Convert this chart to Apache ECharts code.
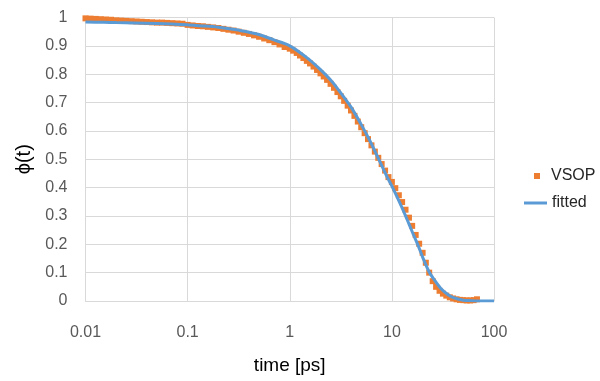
<!DOCTYPE html>
<html>
<head>
<meta charset="utf-8">
<script src="https://cdn.jsdelivr.net/npm/echarts@6/dist/echarts.min.js"></script>
<style>
  html, body { margin: 0; padding: 0; background: #fff; }
  #chart { width: 600px; height: 381px; }
</style>
</head>
<body>
<div id="chart"></div>
<script>
// VSOP points, time [ps] and phi(t)
var vsopTime = [
  0.01, 0.0112, 0.0126, 0.0141, 0.0158, 0.0178, 0.02, 0.0224, 0.0251, 0.0282,
  0.0316, 0.0355, 0.0398, 0.0447, 0.0501, 0.0562, 0.0631, 0.0708, 0.0794, 0.0891,
  0.1, 0.112, 0.126, 0.141, 0.158, 0.178, 0.2, 0.224, 0.251, 0.282,
  0.316, 0.355, 0.398, 0.447, 0.501, 0.562, 0.631, 0.708, 0.794, 0.891,
  1.00, 1.08, 1.17, 1.26, 1.36, 1.47, 1.58, 1.71, 1.85, 2.00,
  2.15, 2.32, 2.51, 2.71, 2.93, 3.16, 3.41, 3.69, 3.98, 4.30,
  4.64, 5.01, 5.41, 5.84, 6.31, 6.81, 7.36, 7.94, 8.58, 9.26,
  10.0, 10.8, 11.7, 12.6, 13.6, 14.7, 15.8, 17.1, 18.5, 20.0,
  21.5, 23.2, 25.1, 27.1, 29.3, 31.6, 34.1, 36.9, 39.8, 43.0,
  46.4, 50.1, 54.1, 58.4, 63.1, 68.1
];
var vsopPhi = [
  0.997, 0.996, 0.995, 0.994, 0.993, 0.992, 0.990, 0.989, 0.988, 0.987,
  0.986, 0.985, 0.984, 0.983, 0.982, 0.982, 0.981, 0.980, 0.979, 0.978,
  0.974, 0.972, 0.970, 0.969, 0.967, 0.965, 0.963, 0.960, 0.957, 0.954,
  0.950, 0.946, 0.942, 0.937, 0.932, 0.926, 0.920, 0.913, 0.905, 0.896,
  0.890, 0.883, 0.875, 0.866, 0.857, 0.847, 0.838, 0.827, 0.815, 0.803,
  0.792, 0.780, 0.766, 0.752, 0.737, 0.722, 0.706, 0.689, 0.672, 0.653,
  0.633, 0.613, 0.592, 0.571, 0.549, 0.527, 0.505, 0.483, 0.460, 0.437,
  0.420, 0.398, 0.373, 0.349, 0.322, 0.294, 0.265, 0.233, 0.202, 0.170,
  0.135, 0.100, 0.070, 0.050, 0.036, 0.026, 0.019, 0.013, 0.009, 0.006,
  0.004, 0.003, 0.002, 0.002, 0.003, 0.006
];

// fitted curve
var fitTime = [
  0.01, 0.015, 0.02, 0.03, 0.05, 0.07, 0.1, 0.15, 0.2, 0.3,
  0.4, 0.5, 0.7, 1, 1.5, 2, 2.5, 3, 4, 5,
  6, 7, 8, 9, 10, 12, 14, 16, 18, 20,
  23, 26, 30, 35, 40, 50, 60, 70, 100
];
var fitPhi = [
  0.984, 0.983, 0.982, 0.981, 0.979, 0.977, 0.974, 0.970, 0.966, 0.957,
  0.948, 0.940, 0.921, 0.900, 0.856, 0.816, 0.780, 0.745, 0.683, 0.623,
  0.570, 0.520, 0.476, 0.437, 0.405, 0.345, 0.290, 0.240, 0.197, 0.155,
  0.105, 0.075, 0.045, 0.024, 0.012, 0.003, 0.001, 0.0, 0.0
];

var xTicks = [0.01, 0.1, 1, 10, 100];

function pairs(xs, ys) {
    var out = [];
    for (let i = 0; i < xs.length; i++) {
        out.push([xs[i], ys[i]]);
    }
    return out;
}

var myChart = echarts.init(document.getElementById("chart"));
var font = "'Liberation Sans', Arial, sans-serif";

option = {
    animation: false,
    grid: { left: 85.5, right: 106, top: 17.5, bottom: 80, containLabel: false },
    legend: [{
        data: ['VSOP'],
        orient: 'vertical',
        left: 534, top: 168,
        padding: 0,
        itemWidth: 6, itemHeight: 6,
        textStyle: { fontFamily: font, fontSize: 16, color: '#262626', padding: [0, 0, 0, 6] }
    }, {
        data: [{ name: 'fitted', icon: 'rect' }],
        orient: 'vertical',
        left: 524, top: 195,
        padding: 0,
        itemWidth: 23, itemHeight: 3,
        textStyle: { fontFamily: font, fontSize: 16, color: '#262626' }
    }],
    xAxis: {
        type: 'log',
        logBase: 10,
        min: 0.01,
        max: 100,
        name: 'time [ps]',
        nameLocation: 'middle',
        nameGap: 55,
        nameTextStyle: { fontFamily: font, fontSize: 19, color: '#000' },
        axisLine: { lineStyle: { color: '#D9D9D9', width: 1 } },
        axisTick: { show: false },
        axisLabel: {
            fontFamily: font, fontSize: 16, color: '#595959', margin: 24,
            formatter: function (v) {
                var best = xTicks[0];
                xTicks.forEach(function (t) { if (Math.abs(Math.log10(t) - Math.log10(v)) < Math.abs(Math.log10(best) - Math.log10(v))) best = t; });
                return String(best);
            }
        },
        splitLine: { show: true, lineStyle: { color: '#D9D9D9', width: 1 } }
    },
    yAxis: {
        type: 'value',
        min: 0,
        max: 1,
        interval: 0.1,
        name: 'ϕ(t)',
        nameLocation: 'middle',
        nameGap: 44,
        nameRotate: 90,
        nameTextStyle: { fontFamily: font, fontSize: 20, color: '#000' },
        axisLine: { show: false },
        axisTick: { show: false },
        axisLabel: {
            fontFamily: font, fontSize: 16, color: '#595959', margin: 18,
            formatter: function (v) { return String(+v.toFixed(1)); }
        },
        splitLine: { show: true, lineStyle: { color: '#D9D9D9', width: 1 } }
    },
    series: [{
        name: 'VSOP',
        type: 'scatter',
        data: pairs(vsopTime, vsopPhi),
        symbol: 'rect',
        symbolSize: 6,
        itemStyle: { color: '#ED7D31', opacity: 1 },
        z: 2
    }, {
        name: 'fitted',
        type: 'line',
        data: pairs(fitTime, fitPhi),
        smooth: 0.3,
        showSymbol: false,
        symbol: 'none',
        lineStyle: { color: '#5B9BD5', width: 3 },
        itemStyle: { color: '#5B9BD5' },
        z: 3
    }]
};

if (option && typeof option === "object") {
    myChart.setOption(option, true);
}
</script>
</body>
</html>
